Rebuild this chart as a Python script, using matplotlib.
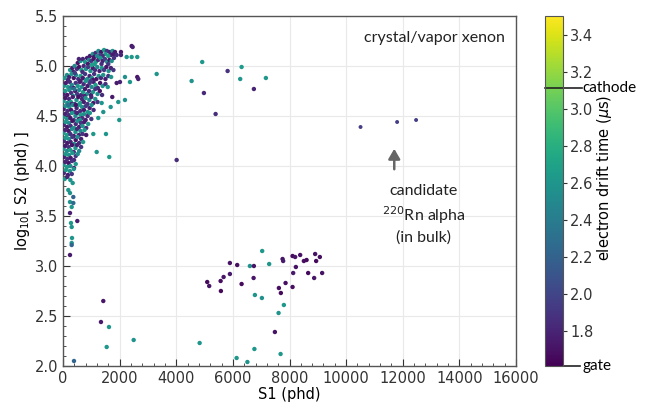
import numpy as np
import matplotlib
matplotlib.use("Agg")
import matplotlib.pyplot as plt
from matplotlib import transforms
from matplotlib.ticker import MultipleLocator, AutoMinorLocator

# drift-time range of the colour scale (gate at the bottom, cathode marked)
DT_GATE = 1.61
DT_MAX = 3.5
DT_CATHODE = 3.11

# main population: S1 (phd), log10 S2, electron drift time (us)
s1_core = [
    950, 1050, 1150, 1250, 1350, 1450, 1550, 1650, 1750, 1100, 1300, 1500, 1700, 1200, 1400, 1600, 1800,
    520, 620, 700, 780, 850, 920, 1000, 1080, 1160, 1240, 1320, 1400, 1480, 1560, 1640, 1720, 1800, 560, 880, 1120, 1360, 1600,
    250, 330, 410, 490, 570, 650, 730, 810, 890, 970, 1050, 1130, 1210, 1290, 1370, 1450, 1530, 1610, 1690, 1780, 370, 690, 1010,
    60, 140, 220, 300, 380, 460, 540, 620, 700, 780, 860, 940, 1020, 1100, 1180, 1260, 1340, 1420, 1500, 1600, 1700, 180, 420, 820, 1060,
    30, 100, 170, 240, 310, 380, 450, 520, 590, 660, 730, 800, 870, 940, 1010, 1080, 1150, 1230, 1310, 1400, 1500, 1580, 270, 620, 980,
    20, 80, 150, 220, 290, 360, 430, 500, 570, 640, 710, 780, 850, 920, 990, 1060, 1140, 1220, 1300, 1380, 400, 760,
    20, 85, 150, 215, 280, 345, 410, 475, 540, 605, 670, 735, 800, 865, 930, 1000, 1070, 1140, 1220, 310, 580,
    25, 90, 155, 220, 285, 350, 415, 480, 545, 610, 675, 740, 805, 870, 940, 1010, 1080, 450, 190,
    20, 80, 140, 200, 260, 320, 380, 440, 500, 560, 620, 680, 740, 800, 870, 950, 1000, 600,
    30, 90, 150, 210, 270, 330, 390, 450, 510, 570, 630, 690, 750, 820, 890,
    20, 80, 140, 200, 260, 320, 380, 440, 500, 560, 620, 690, 760, 820,
    30, 90, 150, 210, 270, 330, 390, 450, 510, 570, 640, 710,
    20, 80, 140, 200, 260, 320, 380, 440, 500, 570, 640,
    30, 90, 150, 210, 270, 330, 390, 450, 520,
    20, 80, 140, 200, 260, 320, 390, 450,
    30, 100, 170, 240, 310, 380,
    60, 150, 260,
]
s2_core = [
    5.10, 5.12, 5.13, 5.15, 5.14, 5.16, 5.15, 5.14, 5.15, 5.09, 5.11, 5.12, 5.11, 5.10, 5.10, 5.10, 5.12,
    5.03, 5.05, 5.07, 5.04, 5.08, 5.06, 5.05, 5.07, 5.04, 5.06, 5.08, 5.05, 5.07, 5.04, 5.06, 5.05, 5.08, 5.07, 5.02, 5.02, 5.02, 5.02,
    4.96, 4.98, 5.00, 4.97, 4.99, 4.96, 5.00, 4.97, 4.99, 4.95, 4.98, 4.96, 4.99, 4.95, 4.98, 4.96, 4.99, 4.95, 4.98, 4.96, 4.94, 4.94, 5.01,
    4.88, 4.91, 4.89, 4.92, 4.88, 4.91, 4.87, 4.90, 4.88, 4.92, 4.87, 4.90, 4.88, 4.92, 4.87, 4.90, 4.88, 4.91, 4.87, 4.90, 4.89, 4.86, 4.93, 4.86, 4.86,
    4.80, 4.83, 4.79, 4.84, 4.81, 4.78, 4.83, 4.80, 4.84, 4.79, 4.82, 4.85, 4.80, 4.83, 4.79, 4.84, 4.81, 4.78, 4.83, 4.80, 4.82, 4.79, 4.78, 4.85, 4.85,
    4.72, 4.75, 4.71, 4.76, 4.73, 4.70, 4.75, 4.72, 4.76, 4.71, 4.74, 4.77, 4.72, 4.75, 4.71, 4.74, 4.77, 4.72, 4.75, 4.71, 4.77, 4.70,
    4.65, 4.68, 4.63, 4.67, 4.64, 4.69, 4.62, 4.66, 4.69, 4.63, 4.67, 4.64, 4.68, 4.62, 4.66, 4.69, 4.63, 4.67, 4.64, 4.62, 4.62,
    4.57, 4.60, 4.55, 4.59, 4.56, 4.61, 4.54, 4.58, 4.61, 4.55, 4.59, 4.56, 4.60, 4.54, 4.58, 4.61, 4.56, 4.61, 4.61,
    4.49, 4.52, 4.47, 4.51, 4.48, 4.53, 4.46, 4.50, 4.53, 4.47, 4.51, 4.48, 4.52, 4.46, 4.50, 4.53, 4.47, 4.46,
    4.41, 4.44, 4.39, 4.43, 4.40, 4.45, 4.38, 4.42, 4.45, 4.39, 4.43, 4.40, 4.44, 4.38, 4.42,
    4.33, 4.36, 4.31, 4.35, 4.32, 4.37, 4.30, 4.34, 4.37, 4.31, 4.35, 4.32, 4.36, 4.31,
    4.25, 4.28, 4.23, 4.27, 4.24, 4.29, 4.22, 4.26, 4.29, 4.23, 4.27, 4.24,
    4.17, 4.20, 4.15, 4.19, 4.16, 4.21, 4.14, 4.18, 4.21, 4.15, 4.19,
    4.09, 4.12, 4.07, 4.11, 4.08, 4.13, 4.06, 4.10, 4.12,
    4.01, 4.04, 3.99, 4.03, 4.00, 4.05, 3.98, 4.02,
    3.93, 3.96, 3.91, 3.95, 3.92, 3.97,
    3.87, 3.89, 3.86,
]
dt_core = [
    1.75, 2.60, 1.85, 2.55, 1.70, 2.65, 1.90, 1.80, 2.58, 1.72, 1.95, 2.62, 1.78, 2.50, 1.86, 2.66, 1.74,
    1.70, 2.55, 1.82, 2.62, 1.76, 2.50, 1.90, 1.72, 2.66, 1.84, 2.58, 1.78, 1.95, 2.60, 1.70, 2.54, 1.88, 1.80, 1.74, 2.64, 1.86, 1.92,
    2.60, 1.75, 2.52, 1.88, 1.70, 2.64, 1.82, 2.56, 1.92, 2.60, 1.74, 1.86, 2.50, 1.78, 2.62, 1.94, 1.72, 2.58, 1.80, 1.90, 1.76, 1.84, 2.66,
    2.62, 2.55, 1.78, 2.60, 1.70, 2.48, 1.86, 2.66, 1.74, 1.92, 2.58, 1.80, 2.52, 1.88, 1.72, 2.62, 1.84, 2.56, 1.76, 1.90, 2.60, 1.82, 1.95, 2.54, 1.70,
    2.58, 1.76, 2.64, 1.84, 2.50, 1.72, 1.90, 2.60, 1.80, 2.55, 1.86, 2.62, 1.74, 1.94, 2.52, 1.78, 2.66, 1.82, 1.70, 2.58, 1.88, 2.60, 2.25, 1.76, 1.92,
    1.80, 2.62, 1.72, 2.55, 1.88, 2.60, 1.76, 1.94, 2.50, 1.82, 2.64, 1.74, 2.58, 1.86, 1.78, 2.62, 1.90, 2.54, 1.72, 1.84, 2.30, 1.80,
    2.60, 1.74, 2.52, 1.86, 2.64, 1.78, 1.92, 2.56, 1.70, 2.62, 1.84, 1.76, 2.58, 1.88, 2.50, 1.80, 1.72, 2.60, 1.90, 1.82, 2.66,
    1.76, 2.58, 1.84, 2.64, 1.72, 2.52, 1.90, 1.80, 2.60, 1.86, 2.56, 1.74, 1.94, 2.62, 1.78, 2.54, 1.82, 1.70, 2.28,
    2.62, 1.78, 2.54, 1.86, 1.72, 2.60, 1.92, 2.50, 1.80, 1.74, 2.64, 1.88, 2.56, 1.76, 1.84, 2.60, 1.90, 2.58,
    1.82, 2.60, 1.74, 2.52, 1.88, 1.70, 2.64, 1.84, 2.56, 1.78, 1.92, 2.58, 1.76, 1.86, 2.62,
    2.58, 1.80, 2.66, 1.72, 1.90, 2.54, 1.76, 2.60, 1.84, 1.78, 2.50, 1.88, 2.62, 1.74,
    1.86, 2.62, 1.74, 2.56, 1.80, 1.92, 2.60, 1.70, 2.52, 1.84, 1.78, 2.64,
    2.60, 1.76, 2.54, 1.88, 2.66, 1.72, 1.84, 2.58, 1.80, 2.50, 1.90,
    1.78, 2.62, 1.86, 2.56, 1.74, 2.60, 1.82, 1.92, 2.54,
    2.58, 1.80, 2.64, 1.72, 2.52, 1.88, 1.76, 2.60,
    1.84, 2.62, 1.74, 2.56, 1.90, 2.60,
    2.62, 1.80, 2.56,
]

# low-S1 tail
s1_tail = [342, 187, 247, 364, 247, 364, 307, 247, 505, 282, 307, 318, 307, 307, 247]
s2_tail = [3.83, 3.76, 3.73, 3.69, 3.64, 3.63, 3.59, 3.53, 3.45, 3.43, 3.39, 3.28, 3.23, 3.21, 3.11]
dt_tail = [2.60, 2.62, 2.56, 2.20, 2.58, 2.25, 2.60, 1.78, 1.76, 2.62, 2.56, 2.60, 2.58, 2.22, 1.74]

# scattered events above/right of the main band
s1_high = [2425, 2460, 2623, 2425, 2249, 2047, 2047, 1836, 1895, 2623, 2658, 2365, 2189, 2012, 1895,
           3308, 4543, 4917, 4977, 5390, 5814, 6308, 6259, 6742, 7166, 4014, 1740, 1952, 2189, 1987,
           1684, 1518, 1634, 1190, 1070, 1366, 1423, 1246]
s2_high = [5.20, 5.19, 5.09, 5.09, 5.09, 5.14, 5.11, 5.14, 5.11, 4.89, 4.87, 4.84, 4.89, 4.84, 4.83,
           4.92, 4.85, 5.04, 4.73, 4.52, 4.95, 4.99, 4.87, 4.77, 4.88, 4.06, 4.69, 4.64, 4.66, 4.46,
           4.59, 4.32, 4.09, 4.14, 4.32, 4.63, 4.54, 4.48]
dt_high = [1.72, 1.78, 2.60, 2.62, 2.58, 1.74, 1.80, 1.76, 1.86, 1.72, 1.78, 2.62, 2.56, 1.80, 1.74,
           2.60, 2.58, 2.62, 1.82, 1.86, 1.88, 2.64, 2.60, 1.80, 2.62, 1.84, 1.74, 2.60, 2.56, 2.62,
           2.58, 2.60, 2.64, 2.58, 2.62, 2.60, 2.56, 2.60]

# low-S2 group
s1_low = [1423, 1341, 1624, 1543, 2496, 388, 4826, 6132, 6513, 6760, 7685, 7484, 7614, 7801, 6778,
          7025, 7035, 7282, 6601, 5094, 5164, 5567, 5673, 5577, 5895, 5895, 6153, 6308, 6742, 6732,
          7625, 7695, 7755, 7776, 7861, 8108, 8200, 8377, 8507, 8603, 8225, 8130, 8108, 8659, 8871,
          8906, 9072, 8941, 9153]
s2_low = [2.65, 2.44, 2.39, 2.19, 2.26, 2.05, 2.23, 2.08, 2.04, 2.17, 2.12, 2.34, 2.53, 2.61, 2.71,
          2.68, 3.15, 3.02, 3.00, 2.84, 2.80, 2.85, 2.89, 2.75, 3.03, 2.92, 3.01, 2.82, 3.00, 2.88,
          2.78, 2.73, 3.07, 3.05, 2.83, 3.10, 3.09, 3.11, 3.05, 3.06, 2.99, 2.93, 2.79, 2.93, 2.88,
          3.12, 3.09, 3.05, 2.93]
dt_low = [1.72, 1.74, 2.60, 2.62, 2.58, 2.22, 2.60, 2.62, 2.58, 2.60, 2.62, 1.70, 2.58, 2.62, 2.60,
          2.56, 2.62, 2.60, 2.58, 1.66, 1.70, 1.68, 1.72, 1.66, 1.70, 1.74, 1.68, 1.66, 1.70, 1.72,
          1.68, 1.66, 1.70, 1.74, 1.68, 1.66, 1.72, 1.70, 1.68, 1.66, 1.70, 1.74, 1.68, 1.66, 1.72,
          1.70, 1.68, 1.66, 1.70]

# candidate 220Rn alpha events
s1_cand = [10509, 11801, 12471]
s2_cand = [4.39, 4.44, 4.46]
dt_cand = [1.95, 1.95, 1.95]

xticks = np.arange(0, 16001, 2000)
yticks = [2.0, 2.5, 3.0, 3.5, 4.0, 4.5, 5.0, 5.5]
cb_ticks = [1.8, 2.0, 2.2, 2.4, 2.6, 2.8, 3.0, 3.2, 3.4]

s1_all = s1_core + s1_tail + s1_high + s1_low
s2_all = s2_core + s2_tail + s2_high + s2_low
dt_all = dt_core + dt_tail + dt_high + dt_low

fig = plt.figure(figsize=(6.52, 4.04), dpi=100)
ax = fig.add_axes([63 / 652, 38 / 404, 453 / 652, 350 / 404])
cax = fig.add_axes([545 / 652, 38 / 404, 18 / 652, 350 / 404])

sc = ax.scatter(s1_all, s2_all, c=dt_all, cmap="viridis", vmin=DT_GATE, vmax=DT_MAX,
                s=10, linewidths=0, zorder=3)
ax.scatter(s1_cand, s2_cand, c=dt_cand, cmap="viridis", vmin=DT_GATE, vmax=DT_MAX,
           s=8, linewidths=0, zorder=3)

ax.set_xlim(0, 16000)
ax.set_ylim(2.0, 5.5)
ax.set_xticks(xticks)
ax.set_yticks(yticks)
ax.xaxis.set_minor_locator(AutoMinorLocator(5))
ax.yaxis.set_minor_locator(MultipleLocator(0.1))
ax.tick_params(which="both", direction="in", labelsize=10.5, colors="#333333")
ax.tick_params(which="major", length=5)
ax.tick_params(which="minor", length=2.5)
ax.grid(True, color="#e9e9e9", linewidth=0.8, zorder=0)
ax.set_axisbelow(True)
for sp in ax.spines.values():
    sp.set_color("#555555")
    sp.set_linewidth(1.0)

ax.set_xlabel("S1 (phd)", fontsize=10.5, labelpad=1)
ax.set_ylabel("log$_{10}$[ S2 (phd) ]", fontsize=10.5, labelpad=2)

ax.text(0.976, 0.937, "crystal/vapor xenon", transform=ax.transAxes, ha="right", va="center",
        fontsize=11.5, family="Lato", color="#222222")

ax.annotate("", xy=(11700, 4.20), xytext=(11700, 3.94),
            arrowprops=dict(arrowstyle="-|>,head_width=0.35,head_length=0.6", color="#666666", lw=1.8))
ax.text(12750, 3.75, "candidate", ha="center", va="center", fontsize=11.5, family="Lato", color="#222222")
ax.text(12750, 3.51, "$^{220}$Rn alpha", ha="center", va="center", fontsize=11.5, family="Lato", color="#222222")
ax.text(12750, 3.28, "(in bulk)", ha="center", va="center", fontsize=11.5, family="Lato", color="#222222")

cb = fig.colorbar(sc, cax=cax)
cb.set_ticks(cb_ticks)
cb.ax.tick_params(labelsize=10.5, length=3, pad=2, colors="#333333")
cb.outline.set_edgecolor("#555555")

# cathode / gate markers on the colour bar
tr = transforms.blended_transform_factory(cb.ax.transAxes, cb.ax.transData)
cb.ax.plot([0, 2.05], [DT_CATHODE, DT_CATHODE], color="#222222", lw=1.2, transform=tr, clip_on=False)
cb.ax.text(2.1, DT_CATHODE, "cathode", transform=tr, ha="left", va="center", fontsize=11, family="Lato")
cb.ax.plot([1.0, 1.95], [DT_GATE, DT_GATE], color="#222222", lw=1.2, transform=tr, clip_on=False)
cb.ax.text(2.1, DT_GATE, "gate", transform=tr, ha="left", va="center", fontsize=11, family="Lato")
cb.ax.text(3.33, 0.537, "electron drift time ($\\mu$s)", transform=cb.ax.transAxes, rotation=90,
           ha="center", va="center", fontsize=10.5)

fig.savefig("out.png", dpi=100)
